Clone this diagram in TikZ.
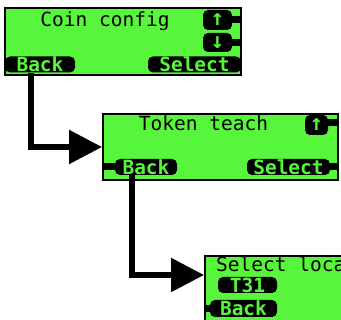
\documentclass[tikz,border=0pt]{standalone}
\usepackage{fontspec}
\newfontfamily\lcd{DejaVu Sans Mono}
\usetikzlibrary{arrows.meta,calc}
\definecolor{lcdgreen}{RGB}{87,245,60}
\begin{document}
\begin{tikzpicture}[x=1pt,y=-1pt,
  screen/.style={draw=black, line width=2pt, fill=lcdgreen, inner sep=0pt},
  pill/.style={fill=black, text=lcdgreen, rounded corners=5pt, inner sep=0pt,
    font=\lcd\bfseries\fontsize{19.5}{19.5}\selectfont},
  arrowbtn/.style={pill, font=\lcd\bfseries\fontsize{22}{22}\selectfont},
  title/.style={text=black, inner sep=0pt, font=\lcd\fontsize{19.5}{19.5}\selectfont},
  conn/.style={line width=5.5pt, -{Triangle[length=33pt 0,width=33pt 0]}},
  stub/.style={line width=7pt}]
\useasboundingbox (0,0) rectangle (341,320);
\clip (0,0) rectangle (341,320);
\fill[white] (0,0) rectangle (341,320);

% Screen 1
\node[screen, minimum width=236pt, minimum height=67pt] (s1) at (123,41.5) {};
\node[title, anchor=base] (t1) at (105,27) {Coin config};
\draw[stub] (230,20) -- (s1.east |- 0,20);
\draw[stub] (230,42.5) -- (s1.east |- 0,42.5);
\node[arrowbtn, minimum width=29pt, minimum height=20pt] (up1) at (217.5,20) {↑};
\node[arrowbtn, minimum width=29pt, minimum height=19pt] (dn1) at (217.5,42.5) {↓};
\node[pill, minimum width=70pt, minimum height=16pt] (back1) at (40,64.5) {Back};
\node[pill, minimum width=93pt, minimum height=16pt] (sel1) at (194.5,64.5) {Select};

% Screen 2
\node[screen, minimum width=235pt, minimum height=66pt] (s2) at (220.5,147) {};
\node[title, anchor=base] (t2) at (203.5,131) {Token teach};
\draw[stub] (326,123) -- (s2.east |- 0,123);
\node[arrowbtn, minimum width=23pt, minimum height=20pt] (up2) at (316.5,125) {↑};
\draw[stub] (s2.west |- 0,167) -- (120,167);
\draw[stub] (325,167) -- (s2.east |- 0,167);
\node[pill, minimum width=62pt, minimum height=16pt] (back2) at (146,167) {Back};
\node[pill, minimum width=83pt, minimum height=16pt] (sel2) at (288.5,167) {Select};

% Screen 3
\node[screen, minimum width=155pt, minimum height=104pt] (s3) at (282.5,308) {};
\node[title, anchor=base west] (t3) at (216,272) {Select loca};
\node[pill, minimum width=59pt, minimum height=16pt] (t31) at (247.5,285) {T31};
\draw[stub] (s3.west |- 0,308.5) -- (215,308.5);
\node[pill, minimum width=67pt, minimum height=17pt] (back3) at (243.5,308.5) {Back};

% Connectors
\draw[conn] ([xshift=-9pt]back1.south) |- (s2.west);
\draw[conn] ([xshift=-14pt]back2.south) |- ([yshift=-20pt]s3.north west);
\end{tikzpicture}
\end{document}
